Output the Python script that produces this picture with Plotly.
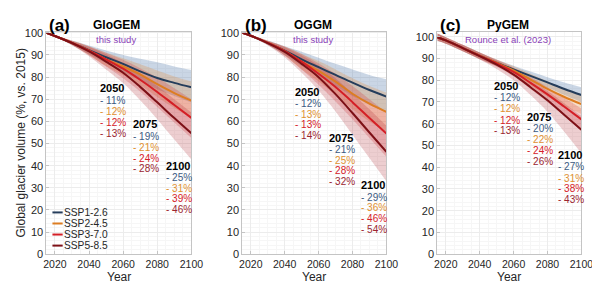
import plotly.graph_objects as go

# ---------------- data ----------------
years = [2015, 2020, 2030, 2040, 2050, 2060, 2070, 2080, 2090, 2100]
scenarios = ["SSP1-2.6", "SSP2-4.5", "SSP3-7.0", "SSP5-8.5"]

# GloGEM (this study)
glogem_med = {
    "SSP1-2.6": [100, 98.6, 95.5, 92.2, 89.0, 86.0, 82.6, 79.6, 77.4, 75.4],
    "SSP2-4.5": [100, 98.6, 95.5, 92.0, 88.0, 84.8, 81.2, 76.8, 72.8, 69.4],
    "SSP3-7.0": [100, 98.6, 95.5, 92.0, 88.0, 83.8, 78.8, 73.3, 67.4, 61.6],
    "SSP5-8.5": [100, 98.6, 95.4, 91.6, 87.0, 82.0, 75.6, 68.6, 61.5, 54.6],
}
glogem_hi = {
    "SSP1-2.6": [100, 98.9, 96.5, 94.3, 92.0, 90.0, 88.3, 86.7, 84.8, 83.2],
    "SSP2-4.5": [100, 98.9, 96.4, 94.0, 91.0, 88.5, 85.8, 83.0, 80.3, 78.0],
    "SSP3-7.0": [100, 98.9, 96.4, 94.0, 91.0, 87.8, 84.0, 79.8, 75.0, 70.0],
    "SSP5-8.5": [100, 98.9, 96.3, 93.6, 90.3, 86.3, 81.5, 76.0, 70.0, 64.0],
}
glogem_lo = {
    "SSP1-2.6": [100, 98.3, 94.5, 90.3, 86.3, 82.3, 78.5, 74.5, 71.5, 68.5],
    "SSP2-4.5": [100, 98.3, 94.6, 90.0, 85.0, 80.8, 76.3, 71.0, 66.0, 61.5],
    "SSP3-7.0": [100, 98.3, 94.6, 90.0, 84.8, 79.5, 73.5, 66.5, 59.5, 52.5],
    "SSP5-8.5": [100, 98.3, 94.4, 89.4, 83.5, 77.3, 69.5, 61.0, 51.8, 42.8],
}

# OGGM (this study)
oggm_med = {
    "SSP1-2.6": [100, 98.7, 95.5, 92.0, 88.0, 84.5, 81.0, 77.5, 74.2, 71.2],
    "SSP2-4.5": [100, 98.7, 95.5, 91.8, 87.0, 82.8, 78.0, 72.5, 68.0, 64.3],
    "SSP3-7.0": [100, 98.7, 95.5, 91.8, 87.0, 81.5, 75.5, 68.7, 61.5, 54.5],
    "SSP5-8.5": [100, 98.7, 95.4, 91.4, 86.0, 80.0, 72.3, 63.8, 55.0, 46.3],
}
oggm_hi = {
    "SSP1-2.6": [100, 99.0, 96.5, 94.0, 91.5, 88.8, 86.0, 83.5, 81.0, 79.0],
    "SSP2-4.5": [100, 99.0, 96.4, 93.8, 90.5, 87.3, 83.5, 79.5, 76.0, 73.0],
    "SSP3-7.0": [100, 99.0, 96.4, 93.8, 90.5, 86.3, 81.5, 76.0, 70.0, 64.0],
    "SSP5-8.5": [100, 99.0, 96.3, 93.5, 89.8, 85.3, 79.5, 72.5, 65.5, 58.0],
}
oggm_lo = {
    "SSP1-2.6": [100, 98.4, 94.5, 90.0, 85.0, 80.5, 76.0, 71.5, 67.5, 64.0],
    "SSP2-4.5": [100, 98.4, 94.6, 89.8, 83.5, 78.0, 72.0, 65.5, 60.0, 55.5],
    "SSP3-7.0": [100, 98.4, 94.6, 89.8, 83.5, 76.5, 69.0, 61.0, 52.5, 44.0],
    "SSP5-8.5": [100, 98.4, 94.4, 89.0, 82.0, 74.0, 64.5, 54.0, 43.5, 33.0],
}

# PyGEM (Rounce et al. 2023)
pygem_med = {
    "SSP1-2.6": [99.8, 98.3, 94.8, 91.3, 88.0, 85.0, 82.0, 79.0, 76.0, 73.2],
    "SSP2-4.5": [99.8, 98.3, 94.8, 91.3, 88.0, 84.5, 80.3, 76.0, 72.3, 69.0],
    "SSP3-7.0": [99.8, 98.3, 94.8, 91.2, 87.8, 83.8, 78.8, 73.5, 67.8, 62.0],
    "SSP5-8.5": [99.8, 98.3, 94.8, 91.1, 87.2, 82.6, 76.8, 70.8, 64.0, 57.2],
}
pygem_hi = {
    "SSP1-2.6": [101.5, 99.8, 96.3, 92.8, 89.5, 86.7, 84.0, 81.4, 79.0, 76.8],
    "SSP2-4.5": [101.5, 99.8, 96.3, 92.8, 89.5, 86.4, 83.0, 79.5, 76.0, 72.8],
    "SSP3-7.0": [101.5, 99.8, 96.3, 92.7, 89.4, 85.8, 81.5, 76.8, 71.8, 67.0],
    "SSP5-8.5": [101.5, 99.8, 96.3, 92.7, 89.0, 85.0, 80.0, 75.0, 69.3, 63.5],
}
pygem_lo = {
    "SSP1-2.6": [98.1, 96.8, 93.3, 89.8, 86.5, 83.3, 80.0, 76.7, 73.2, 70.0],
    "SSP2-4.5": [98.1, 96.8, 93.3, 89.8, 86.5, 82.8, 77.6, 72.5, 68.0, 64.5],
    "SSP3-7.0": [98.1, 96.8, 93.3, 89.7, 86.2, 81.8, 76.0, 70.0, 63.5, 56.8],
    "SSP5-8.5": [98.1, 96.8, 93.3, 89.5, 85.2, 80.0, 73.2, 65.5, 56.2, 46.4],
}

label_years = ["2050", "2075", "2100"]
glogem_pct = [[11, 12, 12, 13], [19, 21, 24, 28], [25, 31, 39, 46]]
oggm_pct = [[12, 13, 13, 14], [21, 25, 28, 32], [29, 36, 46, 54]]
pygem_pct = [[12, 12, 12, 13], [20, 22, 24, 26], [27, 31, 38, 43]]

panel_letters = ["(a)", "(b)", "(c)"]
model_names = ["GloGEM", "OGGM", "PyGEM"]
sources = ["this study", "this study", "Rounce et al. (2023)"]
x_ticks = [2020, 2040, 2060, 2080, 2100]
y_ticks = [0, 10, 20, 30, 40, 50, 60, 70, 80, 90, 100]

# ---------------- styles ----------------
W, H = 600, 283
FONT = "Liberation Sans, Arial, Helvetica, sans-serif"
line_col = {"SSP1-2.6": "#253d5b", "SSP2-4.5": "#dd7d22", "SSP3-7.0": "#d41f26", "SSP5-8.5": "#7d1016"}
band_col = {"SSP1-2.6": "rgba(80,120,170,0.30)", "SSP2-4.5": "rgba(225,140,60,0.28)",
            "SSP3-7.0": "rgba(215,40,45,0.24)", "SSP5-8.5": "rgba(175,30,40,0.22)"}
text_col = {"SSP1-2.6": "#3b5a82", "SSP2-4.5": "#e0902f", "SSP3-7.0": "#d62028", "SSP5-8.5": "#9b2530"}


def px(x):
    return x / W


def py(y):
    return 1 - y / H


x_dom = [(36.25, 185.0), (237.25, 385.0), (437.25, 585.0)]
y_top, y_bot = 19.5, 251.0
y_ranges = [[0, 100.5], [0, 100.5], [0, 102.3]]

models = [(glogem_med, glogem_lo, glogem_hi), (oggm_med, oggm_lo, oggm_hi), (pygem_med, pygem_lo, pygem_hi)]
pcts = [glogem_pct, oggm_pct, pygem_pct]

fig = go.Figure()
for i, (med, lo, hi) in enumerate(models):
    xa = "x" if i == 0 else f"x{i+1}"
    ya = "y" if i == 0 else f"y{i+1}"
    for s in scenarios:
        fig.add_trace(go.Scatter(x=years, y=lo[s], xaxis=xa, yaxis=ya, mode="lines",
                                 line=dict(width=0, shape="spline", smoothing=1.0),
                                 showlegend=False, hoverinfo="skip"))
        fig.add_trace(go.Scatter(x=years, y=hi[s], xaxis=xa, yaxis=ya, mode="lines",
                                 line=dict(width=0, shape="spline", smoothing=1.0),
                                 fill="tonexty", fillcolor=band_col[s],
                                 showlegend=False, hoverinfo="skip"))
    for s in scenarios:
        fig.add_trace(go.Scatter(x=years, y=med[s], xaxis=xa, yaxis=ya, mode="lines",
                                 line=dict(width=2, color=line_col[s], shape="spline", smoothing=1.0),
                                 name=s, showlegend=False))

layout = dict(width=W, height=H, margin=dict(l=0, r=0, t=0, b=0),
              paper_bgcolor="white", plot_bgcolor="white",
              font=dict(family=FONT, color="#262626", size=11), showlegend=False)

for i in range(3):
    k = "" if i == 0 else str(i + 1)
    layout["xaxis" + k] = dict(
        domain=[px(x_dom[i][0]), px(x_dom[i][1])], range=[2015, 2100],
        anchor="y" + k, tickvals=x_ticks, showgrid=True, gridcolor="#ececec", gridwidth=1,
        minor=dict(dtick=5, showgrid=True, gridcolor="#f6f6f6", ticks=""),
        showline=True, linecolor="#c4c4c4", linewidth=1, mirror=True,
        ticks="inside", ticklen=3, tickcolor="#c4c4c4",
        tickfont=dict(size=10.5, color="#262626"), zeroline=False, fixedrange=True)
    layout["yaxis" + k] = dict(
        domain=[py(y_bot), py(y_top)], range=y_ranges[i],
        anchor="x" + k, tickvals=y_ticks, showgrid=True, gridcolor="#ececec", gridwidth=1,
        minor=dict(dtick=2, showgrid=True, gridcolor="#f6f6f6", ticks=""),
        showline=True, linecolor="#c4c4c4", linewidth=1, mirror=True,
        ticks="inside", ticklen=3, tickcolor="#c4c4c4",
        tickfont=dict(size=11, color="#262626"), zeroline=False, fixedrange=True)

fig.update_layout(**layout)

ann = []
# panel titles
title_x = [108, 310, 510]
for i in range(3):
    ann.append(dict(x=px(x_dom[i][0] + 1), y=py(12.5), xref="paper", yref="paper", xanchor="left", yanchor="middle",
                    text="<b>" + panel_letters[i] + "</b>", showarrow=False, font=dict(size=17, color="black")))
    ann.append(dict(x=px(title_x[i]), y=py(12), xref="paper", yref="paper", xanchor="center", yanchor="middle",
                    text="<b>" + model_names[i] + "</b>", showarrow=False, font=dict(size=12, color="black")))
    ann.append(dict(x=px(title_x[i]), y=py(28), xref="paper", yref="paper", xanchor="center", yanchor="middle",
                    text=sources[i], showarrow=False, font=dict(size=9.5, color="#8a3fb8")))
    ann.append(dict(x=px((x_dom[i][0] + x_dom[i][1]) / 2), y=py(274.5), xref="paper", yref="paper",
                    xanchor="center", yanchor="middle", text="Year", showarrow=False,
                    font=dict(size=12, color="#262626")))

ann.append(dict(x=px(10), y=py(135), xref="paper", yref="paper", xanchor="center", yanchor="middle",
                text="Global glacier volume (%, vs. 2015)", textangle=-90, showarrow=False,
                font=dict(size=12, color="#262626")))

# percentage labels: (left x, header y, item ys)
label_pos = [
    [(89, 78.3, [91, 102.7, 114.3, 125]), (123, 115.7, [128.3, 139.8, 151, 162]), (157, 159, [171, 182.3, 193.3, 204.3])],
    [(289, 81.7, [94.3, 105.7, 116.3, 127.3]), (324, 130, [142.3, 153.3, 164.3, 175.7]), (357, 179.3, [191.7, 202.7, 214, 225.7])],
    [(493, 76, [87.7, 99.3, 111.7, 122.7]), (527, 108.3, [120.3, 131.7, 142.7, 154]), (559, 147.7, [160, 171.7, 182.7, 193.7])],
]
for i in range(3):
    for j, yr in enumerate(label_years):
        lx, hy, iys = label_pos[i][j]
        ann.append(dict(x=px(lx), y=py(hy), xref="paper", yref="paper", xanchor="left", yanchor="middle",
                        text="<b>" + yr + "</b>", showarrow=False, font=dict(size=11, color="black")))
        for k, s in enumerate(scenarios):
            ann.append(dict(x=px(lx), y=py(iys[k]), xref="paper", yref="paper", xanchor="left", yanchor="middle",
                            text="- %d%%" % pcts[i][j][k], showarrow=False,
                            font=dict(size=10, color=text_col[s])))

# legend (panel a)
leg_y = [207.5, 219, 230.5, 242]
shapes = []
for k, s in enumerate(scenarios):
    shapes.append(dict(type="line", xref="paper", yref="paper", x0=px(42.5), x1=px(53), y0=py(leg_y[k]), y1=py(leg_y[k]),
                       line=dict(color=line_col[s], width=2)))
    ann.append(dict(x=px(53.5), y=py(leg_y[k]), xref="paper", yref="paper", xanchor="left", yanchor="middle",
                    text=s, showarrow=False, borderpad=0, font=dict(size=10.2, color="#262626")))

fig.update_layout(annotations=ann, shapes=shapes)
fig.write_html("out.html")
